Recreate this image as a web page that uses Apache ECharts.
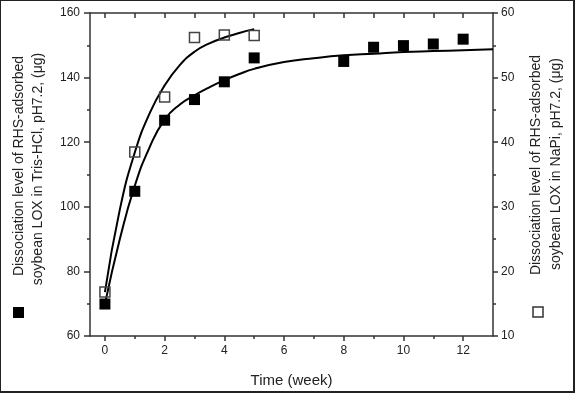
<!DOCTYPE html>
<html>
<head>
<meta charset="utf-8">
<script src="https://cdn.jsdelivr.net/npm/echarts@6/dist/echarts.min.js"></script>
<style>
  html, body { margin: 0; padding: 0; background: #fff; }
  #frame { position: relative; width: 575px; height: 393px; box-sizing: border-box;
           border-top: 1px solid #222; border-left: 1px solid #222;
           border-right: 2px solid #222; border-bottom: 2px solid #222; background: #fff; }
  #chart { position: absolute; left: -1px; top: -1px; width: 575px; height: 393px; }
</style>
</head>
<body>
<div id="frame"><div id="chart"></div></div>
<script>
// ---- data ----
const trisWeeks  = [0, 1, 2, 3, 4, 5, 8, 9, 10, 11, 12];
const trisValues = [69.9, 104.8, 126.8, 133.2, 138.7, 146.1, 145.0, 149.4, 149.9, 150.4, 151.9];

const napiWeeks  = [0, 1, 2, 3, 4, 5];
const napiValues = [16.8, 38.5, 47.0, 56.2, 56.6, 56.5];

// fitted curves
const trisFitWeeks = [0, 0.5, 1, 1.5, 2, 2.5, 3, 3.5, 4, 4.5, 5, 6, 7, 8, 9, 10, 11, 12, 13];
const trisFitValues = [69.9, 90, 106.5, 118.5, 127.0, 131.6, 134.5, 137.0, 139.2, 141.1, 142.7, 144.8, 146.0, 146.9, 147.4, 147.9, 148.2, 148.5, 148.8];

const napiFitWeeks = [0, 0.5, 1, 1.5, 2, 2.5, 3, 3.5, 4, 4.5, 5];
const napiFitValues = [16.8, 29.6, 38.4, 44.5, 48.8, 51.9, 54.0, 55.3, 56.2, 56.9, 57.5];

const xMajorTicks = [0, 2, 4, 6, 8, 10, 12];
const xMinorTicks = [1, 3, 5, 7, 9, 11];
const xTopTicks   = [0, 1, 2, 3, 4, 5, 6, 7, 8, 9, 10, 11, 12];

const xTitle = 'Time (week)';
const leftTitle  = ['Dissociation level of RHS-adsorbed', 'soybean LOX in Tris-HCl, pH7.2, (\u03bcg)'];
const rightTitle = ['Dissociation level of RHS-adsorbed', 'soybean LOX in NaPi, pH7.2, (\u03bcg)'];

const pair = (xs, ys) => xs.map((x, i) => [x, ys[i]]);

const FONT = 'Liberation Sans, Arial, sans-serif';
const AXIS = '#333';

const chart = echarts.init(document.getElementById('chart'), null, { renderer: 'canvas' });

const baseX = {
  type: 'value', min: -0.5, max: 13, splitLine: { show: false }
};

chart.setOption({
  animation: false,
  backgroundColor: 'transparent',
  grid: { left: 90, right: 82, top: 13, bottom: 55, containLabel: false },
  xAxis: [
    Object.assign({}, baseX, {
      position: 'bottom',
      name: xTitle, nameLocation: 'middle', nameGap: 37,
      nameTextStyle: { fontFamily: FONT, fontSize: 15, color: '#222' },
      axisLine: { show: true, onZero: false, lineStyle: { color: AXIS, width: 1.5 } },
      axisTick: { show: true, inside: false, length: 5, customValues: xMajorTicks, lineStyle: { color: AXIS, width: 1.5 } },
      axisLabel: { show: true, customValues: xMajorTicks, margin: 9, fontFamily: FONT, fontSize: 12, color: '#222' }
    }),
    Object.assign({}, baseX, {
      position: 'bottom',
      axisLine: { show: false, onZero: false },
      axisTick: { show: true, inside: false, length: 3, customValues: xMinorTicks, lineStyle: { color: AXIS, width: 1.5 } },
      axisLabel: { show: false }
    }),
    Object.assign({}, baseX, {
      position: 'top',
      axisLine: { show: true, onZero: false, lineStyle: { color: AXIS, width: 1.5 } },
      axisTick: { show: true, inside: true, length: 5, customValues: xTopTicks, lineStyle: { color: AXIS, width: 1.5 } },
      axisLabel: { show: false }
    })
  ],
  yAxis: [
    {
      type: 'value', position: 'left', min: 60, max: 160, interval: 20,
      splitLine: { show: false },
      axisLine: { show: true, onZero: false, lineStyle: { color: AXIS, width: 1.5 } },
      axisTick: { show: true, inside: false, length: 6, lineStyle: { color: AXIS, width: 1.5 } },
      minorTick: { show: true, splitNumber: 2, length: 3, lineStyle: { color: AXIS, width: 1.5 } },
      axisLabel: { margin: 10, fontFamily: FONT, fontSize: 12, color: '#222' }
    },
    {
      type: 'value', position: 'right', min: 10, max: 60, interval: 10,
      splitLine: { show: false },
      axisLine: { show: true, onZero: false, lineStyle: { color: AXIS, width: 1.5 } },
      axisTick: { show: true, inside: false, length: 5, lineStyle: { color: AXIS, width: 1.5 } },
      minorTick: { show: true, splitNumber: 2, length: 3, lineStyle: { color: AXIS, width: 1.5 } },
      axisLabel: { margin: 8, fontFamily: FONT, fontSize: 12, color: '#222' }
    }
  ],
  series: [
    {
      name: 'Tris fit', type: 'line', xAxisIndex: 0, yAxisIndex: 0,
      data: pair(trisFitWeeks, trisFitValues),
      smooth: 0.5, showSymbol: false, symbol: 'none',
      lineStyle: { color: '#000', width: 2 }, z: 2
    },
    {
      name: 'NaPi fit', type: 'line', xAxisIndex: 0, yAxisIndex: 1,
      data: pair(napiFitWeeks, napiFitValues),
      smooth: 0.5, showSymbol: false, symbol: 'none',
      lineStyle: { color: '#000', width: 2 }, z: 2
    },
    {
      name: 'Tris-HCl', type: 'scatter', xAxisIndex: 0, yAxisIndex: 0,
      data: pair(trisWeeks, trisValues),
      symbol: 'rect', symbolSize: 11,
      itemStyle: { color: '#000', opacity: 1 }, z: 3
    },
    {
      name: 'NaPi', type: 'scatter', xAxisIndex: 0, yAxisIndex: 1,
      data: pair(napiWeeks, napiValues),
      symbol: 'rect', symbolSize: 10,
      itemStyle: { color: 'rgba(255,255,255,0)', borderColor: '#444', borderWidth: 1.5, opacity: 1 }, z: 3
    }
  ],
  graphic: [
    { type: 'text', x: 19, y: 166, rotation: Math.PI / 2,
      style: { text: leftTitle[0], fontFamily: FONT, fontSize: 14, fill: '#222', align: 'center', verticalAlign: 'middle' } },
    { type: 'text', x: 38.5, y: 169, rotation: Math.PI / 2,
      style: { text: leftTitle[1], fontFamily: FONT, fontSize: 14, fill: '#222', align: 'center', verticalAlign: 'middle' } },
    { type: 'text', x: 536.5, y: 165, rotation: Math.PI / 2,
      style: { text: rightTitle[0], fontFamily: FONT, fontSize: 14, fill: '#222', align: 'center', verticalAlign: 'middle' } },
    { type: 'text', x: 556, y: 164, rotation: Math.PI / 2,
      style: { text: rightTitle[1], fontFamily: FONT, fontSize: 14, fill: '#222', align: 'center', verticalAlign: 'middle' } },
    { type: 'rect', shape: { x: 13, y: 307, width: 11, height: 11 }, style: { fill: '#000' } },
    { type: 'rect', shape: { x: 533, y: 307, width: 10, height: 10 }, style: { fill: 'none', stroke: '#333', lineWidth: 1.5 } }
  ]
});
</script>
</body>
</html>
